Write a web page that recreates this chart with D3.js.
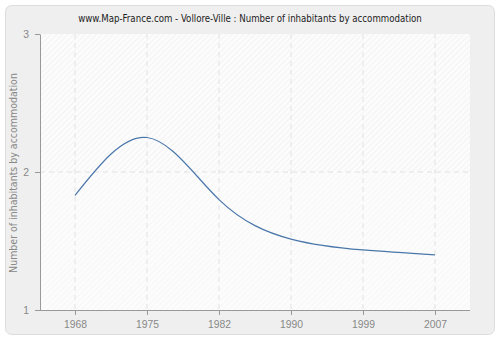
<!DOCTYPE html>
<html><head><meta charset="utf-8">
<script src="https://cdn.jsdelivr.net/npm/d3@7"></script>
<style>body{margin:0;background:#fff;}svg{display:block;font-family:"DejaVu Sans Condensed","DejaVu Sans",Verdana,sans-serif;font-stretch:condensed;}</style>
</head><body>
<script>
const years = ["1968","1975","1982","1990","1999","2007"];
const values = [1.83, 2.25, 1.80, 1.514, 1.435, 1.40];
const yTicks = [1, 2, 3];
const title = "www.Map-France.com - Vollore-Ville : Number of inhabitants by accommodation";
const yLabel = "Number of inhabitants by accommodation";

const W = 500, H = 340;
const m = {left: 40, right: 30, top: 34, bottom: 30};
const svg = d3.select("body").append("svg").attr("width", W).attr("height", H);

function fit(sel, target) {
  const n = sel.node();
  const w = n.getComputedTextLength();
  const fs = parseFloat(sel.attr("font-size"));
  if (w > 0) sel.attr("font-size", (fs * target / w).toFixed(2));
}

const defs = svg.append("defs");
function hatch(id, col) {
  const p = defs.append("pattern").attr("id", id).attr("patternUnits", "userSpaceOnUse")
    .attr("width", 4).attr("height", 4).attr("patternTransform", "rotate(45)");
  p.append("rect").attr("width", 4).attr("height", 4).attr("fill", "#fcfcfc");
  p.append("line").attr("x1", 0).attr("y1", 0).attr("x2", 0).attr("y2", 4).attr("stroke", col).attr("stroke-width", 1.2);
}
hatch("h1", "#eeeeee");
hatch("h2", "#f4f4f4");

svg.append("rect").attr("x", 5.5).attr("y", 5.5).attr("width", 489).attr("height", 329)
  .attr("rx", 6).attr("fill", "#efefef").attr("stroke", "#dcdcdc");

const x = d3.scalePoint().domain(years).range([m.left, W - m.right]).padding(0.486);
const y = d3.scaleLinear().domain([1, 3]).range([H - m.bottom, m.top]);

const pw = W - m.right - m.left;
svg.append("rect").attr("x", m.left).attr("y", y(3)).attr("width", pw).attr("height", y(2) - y(3)).attr("fill", "url(#h1)");
svg.append("rect").attr("x", m.left).attr("y", y(2)).attr("width", pw).attr("height", y(1) - y(2)).attr("fill", "url(#h2)");

const t = svg.append("text").attr("x", 250).attr("y", 22).attr("text-anchor", "middle")
  .attr("font-size", 11).attr("fill", "#222").text(title);
fit(t, 344);

// grid
svg.append("g").selectAll("line").data(years).join("line")
  .attr("x1", d => x(d)).attr("x2", d => x(d)).attr("y1", y(3)).attr("y2", y(1))
  .attr("stroke", "#e2e2e2").attr("stroke-dasharray", "5,4");
svg.append("g").selectAll("line").data(yTicks.slice(1, 2)).join("line")
  .attr("x1", m.left).attr("x2", W - m.right).attr("y1", d => y(d)).attr("y2", d => y(d))
  .attr("stroke", "#e2e2e2").attr("stroke-dasharray", "5,4");

const xa = svg.append("g").attr("transform", `translate(0,${H - m.bottom})`)
  .call(d3.axisBottom(x).tickSize(5).tickPadding(6).tickSizeOuter(0));
const ya = svg.append("g").attr("transform", `translate(${m.left},0)`)
  .call(d3.axisLeft(y).tickValues(yTicks).tickFormat(d3.format("d")).tickSize(5).tickPadding(6).tickSizeOuter(0));
[xa, ya].forEach(a => {
  a.select(".domain").attr("stroke", "#999");
  a.selectAll(".tick line").attr("stroke", "#999");
  a.selectAll("text").attr("fill", "#888").attr("font-size", 11).attr("font-family", null);
});
xa.select(".domain").attr("d", `M${m.left},0.5H${W - m.right}`);
xa.selectAll(".tick text").each(function() { fit(d3.select(this), 23); });
ya.selectAll(".tick text").attr("font-size", xa.select(".tick text").attr("font-size"));

const yl = svg.append("text").attr("transform", `translate(17,${y(2) + 1}) rotate(-90)`).attr("text-anchor", "middle")
  .attr("font-size", 11).attr("fill", "#888").text(yLabel);
fit(yl, 200);

const line = d3.line().x((d, i) => x(years[i])).y(d => y(d)).curve(d3.curveNatural);
svg.append("path").datum(values).attr("d", line).attr("fill", "none")
  .attr("stroke", "#4a77aa").attr("stroke-width", 1.2);
</script>
</body></html>
